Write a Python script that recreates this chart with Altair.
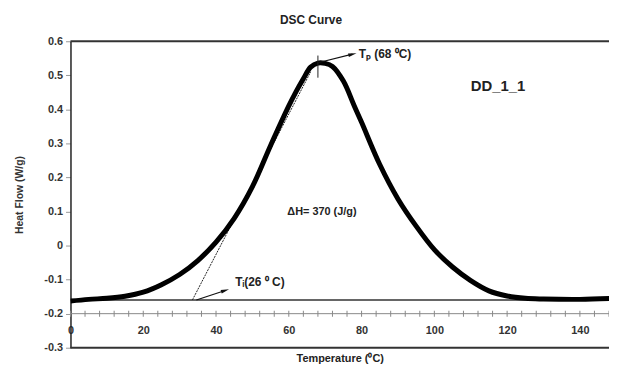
import altair as alt
import pandas as pd

# Curve
TEMP = [0, 5, 10, 15, 20, 25, 30, 35, 40, 45, 50, 55, 60, 62, 64, 66, 68, 70,
        72, 75, 78, 80, 85, 90, 95, 100, 105, 110, 115, 120, 125, 130, 140, 150]
HEAT = [-0.163, -0.158, -0.155, -0.149, -0.137, -0.115, -0.085, -0.044, 0.010,
        0.080, 0.173, 0.294, 0.41, 0.452, 0.49, 0.524, 0.536, 0.535, 0.526,
        0.483, 0.41, 0.362, 0.238, 0.137, 0.057, -0.012, -0.063, -0.103, -0.133,
        -0.148, -0.155, -0.157, -0.158, -0.155]

BASELINE = -0.16
AXIS_Y = -0.2
TAN_T = [33.5, 66.0]
TAN_H = [-0.16, 0.51]
PEAK_T = [68.0, 68.0]
PEAK_H = [0.493, 0.558]
TP_ARROW_T = [68.0, 77.5]
TP_ARROW_H = [0.537, 0.562]
TI_ARROW_T = [34.6, 42.5]
TI_ARROW_H = [-0.16, -0.132]

X_TICKS = list(range(0, 151, 4))
X_LABELS = list(range(0, 141, 20))
Y_TICKS = [-0.3, -0.2, -0.1, 0.0, 0.1, 0.2, 0.3, 0.4, 0.5, 0.6]

ANN_TEXT = ["T\u209a (68 \u2070C)", "T\u1d62(26 \u2070 C)", "\u0394H= 370 (J/g)", "DD_1_1"]
ANN_T = [79.2, 45.3, 59.6, 110.0]
ANN_H = [0.562, -0.108, 0.099, 0.469]
ANN_SIZE = [12, 12, 11, 15]

FONT = "Liberation Sans"
XD = [0, 148]
YD = [-0.3, 0.6]

xs = alt.Scale(domain=XD, nice=False, zero=False)
ys = alt.Scale(domain=YD, nice=False, zero=False)

X_AXIS = alt.Axis(values=X_LABELS, offset=-34, domain=False, ticks=False,
                  tickSize=0, labelPadding=11, labelFlush=False,
                  labelFont=FONT, labelFontSize=11, labelFontWeight="bold",
                  labelColor="#333", grid=False,
                  title="Temperature (\u2070C)", titleFont=FONT,
                  titleFontSize=11, titleFontWeight="bold", titleColor="#222",
                  titlePadding=17)
Y_AXIS = alt.Axis(values=Y_TICKS, domain=True, domainColor="#222",
                  domainWidth=1.5, ticks=True, tickSize=5, tickColor="#999",
                  labelPadding=3, labelFont=FONT, labelFontSize=11,
                  labelFontWeight="bold", labelColor="#333", grid=False,
                  labelExpr="toString(round(datum.value*10)/10)",
                  title="Heat Flow (W/g)", titleFont=FONT, titleFontSize=10.5,
                  titleFontWeight="bold", titleColor="#333", titlePadding=19)


def xenc(field="T"):
    return alt.X(f"{field}:Q", scale=xs, axis=X_AXIS)


def yenc(field="H"):
    return alt.Y(f"{field}:Q", scale=ys, axis=Y_AXIS)


curve_df = pd.DataFrame({"T": TEMP, "H": HEAT})

frame_df = pd.DataFrame({"T": [XD[0]], "T2": [XD[1]], "Ht": [YD[1]], "Hb": [YD[0]]})
top_rule = alt.Chart(frame_df).mark_rule(color="#333", strokeWidth=2).encode(
    x=xenc("T"), x2="T2:Q", y=yenc("Ht"))
bot_rule = alt.Chart(frame_df).mark_rule(color="#333", strokeWidth=2).encode(
    x=xenc("T"), x2="T2:Q", y=yenc("Hb"))

axis_line_df = pd.DataFrame({"T": [XD[0]], "T2": [XD[1]], "H": [AXIS_Y]})
axis_line = alt.Chart(axis_line_df).mark_rule(color="#888", strokeWidth=1).encode(
    x=xenc("T"), x2="T2:Q", y=yenc("H"))

vis_ticks = [t for t in X_TICKS if t <= XD[1]]
tick_df = pd.DataFrame({"T": vis_ticks, "H": [AXIS_Y] * len(vis_ticks)})
ticks = alt.Chart(tick_df).mark_tick(orient="vertical", size=6, thickness=1,
                                     color="#888", opacity=1).encode(x=xenc(), y=yenc())

base_df = pd.DataFrame({"T": [XD[0]], "T2": [XD[1]], "H": [BASELINE]})
baseline = alt.Chart(base_df).mark_rule(color="#333", strokeWidth=1.5).encode(
    x=xenc("T"), x2="T2:Q", y=yenc("H"))

tan_df = pd.DataFrame({"T": TAN_T, "H": TAN_H})
tangent = alt.Chart(tan_df).mark_line(color="#222", strokeWidth=1,
                                      strokeDash=[2, 1]).encode(x=xenc(), y=yenc())

curve = alt.Chart(curve_df).mark_line(color="black", strokeWidth=5,
                                      interpolate="catmull-rom", clip=True).encode(
    x=xenc(), y=yenc())

peak_df = pd.DataFrame({"T": PEAK_T, "H": PEAK_H})
peak_tick = alt.Chart(peak_df).mark_line(color="#222", strokeWidth=1).encode(
    x=xenc(), y=yenc())

ARROW_PATH = "M0,-1L0.45,1L-0.45,1Z"


def arrow(ts, hs, ang):
    df = pd.DataFrame({"T": ts, "H": hs})
    line = alt.Chart(df).mark_line(color="#111", strokeWidth=1.2).encode(
        x=xenc(), y=yenc())
    head = alt.Chart(df.iloc[[1]]).mark_point(
        shape=ARROW_PATH, filled=True, color="#111", size=70, angle=ang,
        opacity=1).encode(x=xenc(), y=yenc())
    return line + head


tp_arrow = arrow(TP_ARROW_T, TP_ARROW_H, 76)
ti_arrow = arrow(TI_ARROW_T, TI_ARROW_H, 72)

ann_df = pd.DataFrame({"txt": ANN_TEXT, "T": ANN_T, "H": ANN_H, "s": ANN_SIZE})
ann = alt.Chart(ann_df).mark_text(align="left", baseline="middle", font=FONT,
                                  fontWeight="bold", color="#222").encode(
    x=xenc(), y=yenc(), text="txt:N",
    size=alt.Size("s:Q", scale=None, legend=None))

chart = alt.layer(
    axis_line, ticks, baseline, tangent, curve, peak_tick,
    tp_arrow, ti_arrow, ann, top_rule, bot_rule
).properties(
    width=543, height=309,
    title=alt.TitleParams("DSC Curve", font=FONT, fontSize=12, fontWeight="bold",
                          color="#222", anchor="middle", dx=-29, offset=8),
    autosize=alt.AutoSizeParams(type="none"),
    padding={"left": 63, "top": 32, "right": 0, "bottom": 28},
).configure_view(stroke=None)

chart.save("out.html", embed_options={"renderer": "svg", "actions": False})
